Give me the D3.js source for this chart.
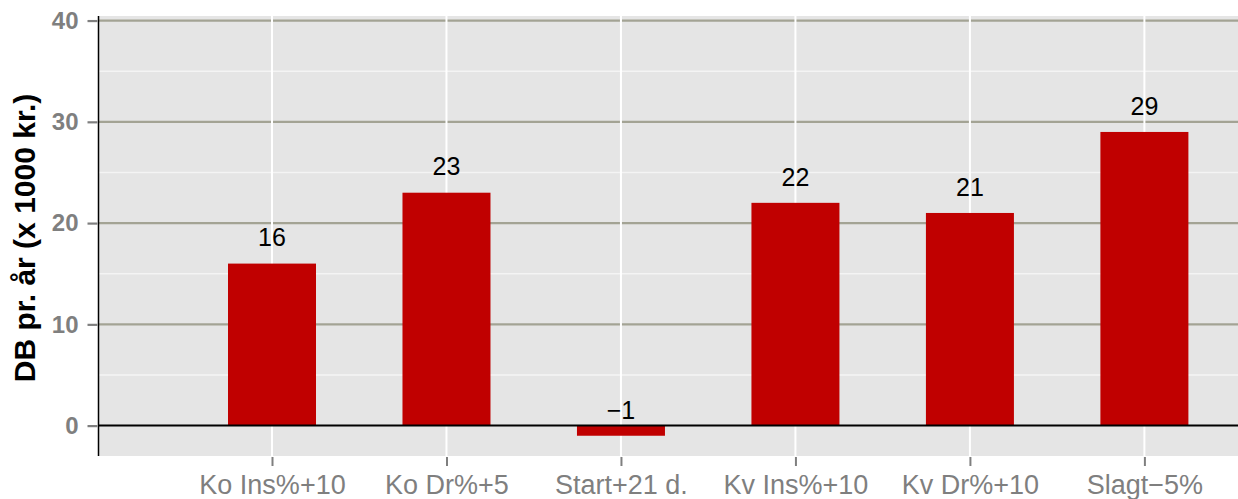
<!DOCTYPE html>
<html>
<head>
<meta charset="utf-8">
<script src="https://cdn.jsdelivr.net/npm/d3@7"></script>
<style>
  body { margin: 0; background: #ffffff; }
  svg { display: block; font-family: "Liberation Sans", Arial, sans-serif; }
</style>
</head>
<body>
<svg id="drawing_region"></svg>
<script>
const categories = ["Ko Ins%+10", "Ko Dr%+5", "Start+21 d.", "Kv Ins%+10", "Kv Dr%+10", "Slagt\u22125%"];
const values = [16, 23, -1, 22, 21, 29];
const major_ticks = [0, 10, 20, 30, 40];
const minor_ticks = [5, 15, 25, 35];
const y_title = "DB pr. \u00e5r (x 1000 kr.)";

class BarChart {
    constructor(config) {
        this.config = config;
        this.init();
    }

    init() {
        let self = this;
        const c = self.config;

        self.svg = d3.select(c.parent)
            .attr('width', c.width)
            .attr('height', c.height);

        self.xscale = d3.scalePoint()
            .domain(categories)
            .range([272, 1144.4]);

        self.yscale = d3.scaleLinear()
            .domain([-3.0, 40.45])
            .range([c.panel.bottom, c.panel.top]);

        self.render();
    }

    render() {
        let self = this;
        const c = self.config;
        const p = c.panel;
        const x = self.xscale, y = self.yscale;

        // panel background
        self.svg.append('rect')
            .attr('x', p.left).attr('y', p.top)
            .attr('width', p.right - p.left)
            .attr('height', p.bottom - p.top)
            .attr('fill', '#e5e5e5');

        // minor grid
        self.svg.selectAll('.minor').data(minor_ticks).enter()
            .append('line')
            .attr('x1', p.left).attr('x2', p.right)
            .attr('y1', d => y(d)).attr('y2', d => y(d))
            .attr('stroke', '#f4f4f4').attr('stroke-width', 1.5);

        // major grid
        self.svg.selectAll('.major').data(major_ticks.filter(d => d !== 0)).enter()
            .append('line')
            .attr('x1', p.left).attr('x2', p.right)
            .attr('y1', d => y(d)).attr('y2', d => y(d))
            .attr('stroke', '#a3a394').attr('stroke-width', 2.2);

        // vertical grid
        self.svg.selectAll('.vgrid').data(categories).enter()
            .append('line')
            .attr('x1', d => x(d)).attr('x2', d => x(d))
            .attr('y1', p.top).attr('y2', p.bottom)
            .attr('stroke', '#ffffff').attr('stroke-width', 2);

        // bars
        const bw = 88;
        self.svg.selectAll('.bar').data(values).enter()
            .append('rect')
            .attr('x', (d, i) => x(categories[i]) - bw / 2)
            .attr('y', d => y(Math.max(d, 0)))
            .attr('width', bw)
            .attr('height', d => Math.abs(y(d) - y(0)))
            .attr('fill', '#c00000');

        // zero line
        self.svg.append('line')
            .attr('x1', p.left).attr('x2', p.right)
            .attr('y1', y(0)).attr('y2', y(0))
            .attr('stroke', '#000000').attr('stroke-width', 2);

        // value labels
        self.svg.selectAll('.vlabel').data(values).enter()
            .append('text')
            .attr('x', (d, i) => x(categories[i]))
            .attr('y', d => y(d + 1.7))
            .attr('text-anchor', 'middle')
            .attr('font-size', 25)
            .attr('fill', '#000000')
            .text(d => d < 0 ? '\u2212' + Math.abs(d) : d);

        // left axis line
        self.svg.append('line')
            .attr('x1', p.left).attr('x2', p.left)
            .attr('y1', p.top).attr('y2', p.bottom)
            .attr('stroke', '#000000').attr('stroke-width', 1.5);

        // y axis
        const yaxis = d3.axisLeft(y)
            .tickValues(major_ticks)
            .tickSize(10)
            .tickPadding(9)
            .tickSizeOuter(0);
        const yg = self.svg.append('g')
            .attr('transform', `translate(${p.left - 1},0)`)
            .call(yaxis);
        yg.select('.domain').remove();
        yg.selectAll('.tick line').attr('stroke', '#7f7f7f').attr('stroke-width', 2.2);
        yg.selectAll('.tick text')
            .attr('fill', '#7f7f7f')
            .attr('font-size', 24)
            .attr('font-weight', 'bold')
            .attr('font-family', '"Liberation Sans", Arial, sans-serif');

        // x axis
        const xaxis = d3.axisBottom(x)
            .tickSize(9)
            .tickPadding(6)
            .tickSizeOuter(0);
        const xg = self.svg.append('g')
            .attr('transform', `translate(0,${p.bottom + 1})`)
            .call(xaxis);
        xg.select('.domain').remove();
        xg.selectAll('.tick line').attr('stroke', '#7f7f7f').attr('stroke-width', 2);
        xg.selectAll('.tick text')
            .attr('fill', '#7f7f7f')
            .attr('font-size', 27)
            .attr('dy', null)
            .attr('y', 37)
            .attr('font-family', '"Liberation Sans", Arial, sans-serif');

        // y title
        self.svg.append('text')
            .attr('transform', `translate(35,${(p.top + p.bottom) / 2 + 2}) rotate(-90)`)
            .attr('text-anchor', 'middle')
            .attr('font-size', 30)
            .attr('font-weight', 'bold')
            .attr('fill', '#000000')
            .text(y_title);
    }
}

const chart = new BarChart({
    parent: '#drawing_region',
    width: 1238,
    height: 499,
    panel: { left: 98.5, right: 1238, top: 16, bottom: 456 }
});
</script>
</body>
</html>
